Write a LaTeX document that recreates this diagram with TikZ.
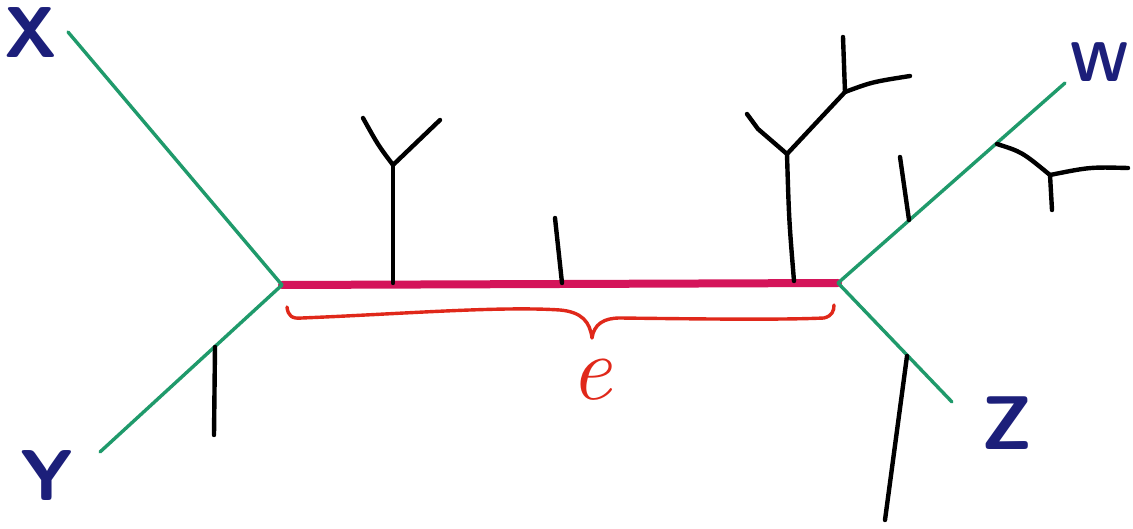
\documentclass[tikz,border=0pt]{standalone}
\usepackage{fontspec}
\definecolor{edgegreen}{HTML}{1F9A6B}
\definecolor{inkblue}{HTML}{1C1F7A}
\definecolor{splitred}{HTML}{D4145A}
\definecolor{bracered}{HTML}{E0281A}
\tikzset{
  leafedge/.style={draw=edgegreen, line width=3.4pt, line cap=round},
  splitedge/.style={draw=splitred, line width=8pt, line cap=round},
  twig/.style={draw=black, line width=4.4pt, line cap=round, line join=round},
  bracepath/.style={draw=bracered, line width=3.4pt, line cap=round, line join=round},
  leaflabel/.style={text=inkblue, font=\sffamily\bfseries\fontsize{72}{72}\selectfont, inner sep=0pt},
}
\begin{document}
\begin{tikzpicture}[x=1pt,y=-1pt]
\useasboundingbox (0,0) rectangle (1133,529);
\fill[white] (0,0) rectangle (1133,529);

% internal vertices and leaf ends
\coordinate (L) at (282,285);
\coordinate (R) at (838,283);
\coordinate (xend) at (68,32);
\coordinate (yend) at (100,452);
\coordinate (wend) at (1065,83);
\coordinate (zend) at (952,402);

% leaf labels
\node[leaflabel] (X) at (31,33) {X};
\node[leaflabel] (Y) at (47,476) {Y};
\node[leaflabel, font=\sffamily\bfseries\fontsize{56}{56}\selectfont] (W) at (1100,62) {W};
\node[leaflabel, font=\sffamily\bfseries\fontsize{76}{76}\selectfont] (Z) at (1007,423) {Z};

% the central edge and the four pendant edges
\draw[splitedge] (L) -- (R);
\draw[leafedge] (xend) -- (L);
\draw[leafedge] (yend) -- (L);
\draw[leafedge] (R) -- (wend);
\draw[leafedge] (R) -- (zend);

% subtree hanging off the Y edge
\coordinate (ytick) at (215,347);
\draw[twig] (ytick) -- (214,435);

% subtrees hanging off the central edge
\coordinate (c1) at (393,283);
\coordinate (c1j) at (393,165);
\draw[twig] (c1) -- (c1j);
\draw[twig] (c1j) .. controls (378,145) .. (363,118);
\draw[twig] (c1j) -- (440,120);

\coordinate (c2) at (562,283);
\draw[twig] (c2) .. controls (559,250) .. (555,218);

\coordinate (c3) at (794,281);
\coordinate (c3j) at (787,154);
\coordinate (c3u) at (845,92);
\draw[twig] (c3) .. controls (789,220) .. (c3j);
\draw[twig] (c3j) -- (758,129) -- (747,114);
\draw[twig] (c3j) -- (c3u);
\draw[twig] (c3u) -- (843,37);
\draw[twig] (c3u) .. controls (872,82) .. (910,76);

% subtrees hanging off the W edge
\coordinate (w1) at (909,220);
\draw[twig] (w1) .. controls (904,185) .. (900,157);
\coordinate (w2) at (997,144);
\coordinate (w2j) at (1050,175);
\draw[twig] (w2) .. controls (1022,152) .. (w2j);
\draw[twig] (w2j) .. controls (1090,167) .. (1128,168);
\draw[twig] (w2j) -- (1052,210);

% subtree hanging off the Z edge
\coordinate (z1) at (907,356);
\draw[twig] (z1) -- (885,520);

% hand-drawn brace under the central edge
\coordinate (btip) at (592,338);
\draw[bracepath] (287,307) .. controls (288,316) and (292,319) .. (302,318)
  .. controls (400,314) and (500,306) .. (560,310)
  .. controls (582,312) and (590,322) .. (btip)
  .. controls (594,324) and (604,318) .. (620,318)
  .. controls (700,319) and (780,320) .. (824,318)
  .. controls (832,316) and (834,311) .. (834,305);
\node[text=bracered, font=\fontsize{92}{92}\selectfont\itshape, inner sep=0pt] (elabel) at (591,380) {e};
\end{tikzpicture}
\end{document}
